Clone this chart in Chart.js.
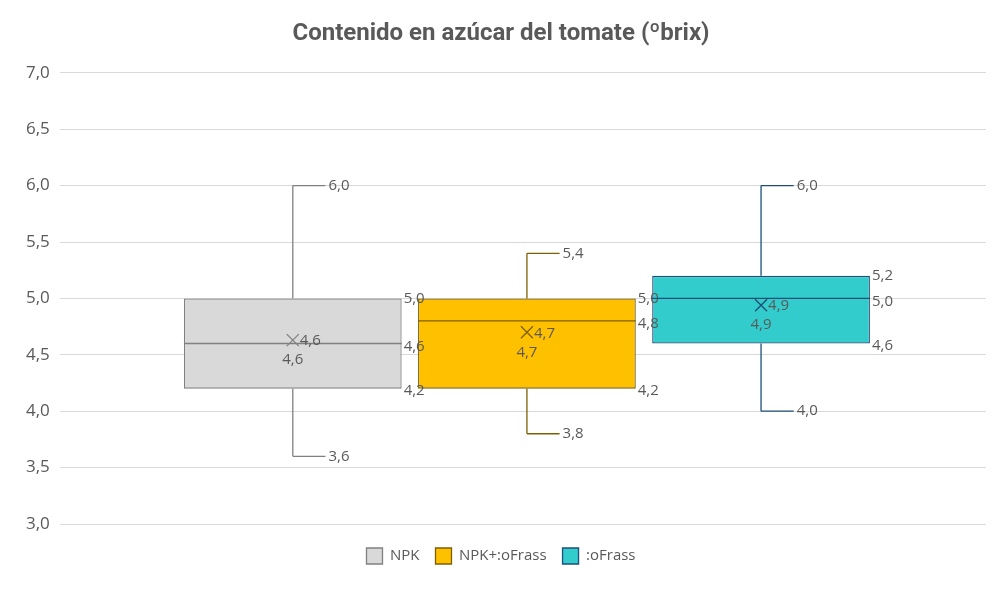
<!DOCTYPE html><html><head><meta charset="utf-8">
<script src="https://cdn.jsdelivr.net/npm/chart.js@4/dist/chart.umd.min.js"></script>
<style>html,body{margin:0;background:#fff}#w{width:1000px;height:604px}</style></head><body><div id="w"><canvas id="c"></canvas></div>
<script>
const seriesNames=['NPK','NPK+:oFrass',':oFrass'];
const mins=[3.6,3.8,4.0];
const q1s=[4.2,4.2,4.6];
const medians=[4.6,4.8,5.0];
const q3s=[5.0,5.0,5.2];
const maxs=[6.0,5.4,6.0];
const means=[4.63,4.7,4.94];
const fills=['#d9d9d9','#ffc000','#33cccc'];
const lines=['#808080','#7f6000','#1f4e79'];
const fmt=v=>v.toFixed(1).replace('.',',');
const boxPlugin={id:'box',afterDatasetsDraw(ch){
 const ctx=ch.ctx,y=ch.scales.y;ctx.save();
 ch.data.datasets.forEach((d,i)=>{
  const el=ch.getDatasetMeta(i).data[0];const cx=el.x,w=el.width,l=cx-w/2,r=cx+w/2;
  ctx.strokeStyle=lines[i];ctx.lineWidth=1.3;
  const py=v=>y.getPixelForValue(v);
  ctx.beginPath();
  ctx.moveTo(cx,py(q3s[i]));ctx.lineTo(cx,py(maxs[i]));
  ctx.moveTo(cx,py(q1s[i]));ctx.lineTo(cx,py(mins[i]));
  ctx.moveTo(cx,py(maxs[i]));ctx.lineTo(cx+w*0.15,py(maxs[i]));
  ctx.moveTo(cx,py(mins[i]));ctx.lineTo(cx+w*0.15,py(mins[i]));
  ctx.moveTo(l,py(medians[i]));ctx.lineTo(r,py(medians[i]));
  const my=py(means[i]),s=6;
  ctx.moveTo(cx-s,my-s);ctx.lineTo(cx+s,my+s);ctx.moveTo(cx+s,my-s);ctx.lineTo(cx-s,my+s);
  ctx.stroke();
  ctx.fillStyle='#595959';ctx.font='15px "Open Sans"';ctx.textBaseline='middle';ctx.textAlign='left';
  ctx.fillText(fmt(maxs[i]),cx+w*0.15+3,py(maxs[i]));
  ctx.fillText(fmt(mins[i]),cx+w*0.15+3,py(mins[i]));
  ctx.fillText(fmt(q3s[i]),r+2,py(q3s[i]));
  ctx.fillText(fmt(q1s[i]),r+2,py(q1s[i])+2);
  ctx.fillText(fmt(medians[i]),r+2,py(medians[i])+3);
  ctx.fillText(fmt(means[i]),cx+7,my+1);
  ctx.textAlign='center';ctx.fillText(fmt(means[i]),cx,my+20);
 });ctx.restore();}};
new Chart(document.getElementById('c'),{type:'bar',
 data:{labels:[''],datasets:seriesNames.map((n,i)=>({label:n,data:[[q1s[i],q3s[i]]],backgroundColor:fills[i],borderColor:lines[i],borderWidth:1.3,borderSkipped:false,barPercentage:0.93,categoryPercentage:0.765}))},
 options:{responsive:true,maintainAspectRatio:false,animation:false,
  layout:{padding:{left:16,right:14,top:16,bottom:30}},
  plugins:{title:{display:true,text:'Contenido en azúcar del tomate (ºbrix)',color:'#595959',font:{size:24,family:'"Liberation Sans Narrow","Roboto",sans-serif',weight:'bold'},padding:{top:4,bottom:24}},
   legend:{position:'bottom',labels:{color:'#595959',font:{size:15,family:'"Open Sans"'},boxWidth:16,boxHeight:16,padding:16}},tooltip:{enabled:false}},
  scales:{x:{grid:{display:false},border:{display:false},ticks:{display:false}},
   y:{min:3,max:7,ticks:{stepSize:0.5,color:'#595959',font:{size:17,family:'"Open Sans"'},padding:10,callback:v=>fmt(v)},grid:{color:'#d9d9d9'},border:{display:false}}}}
,plugins:[boxPlugin]});
</script></body></html>
